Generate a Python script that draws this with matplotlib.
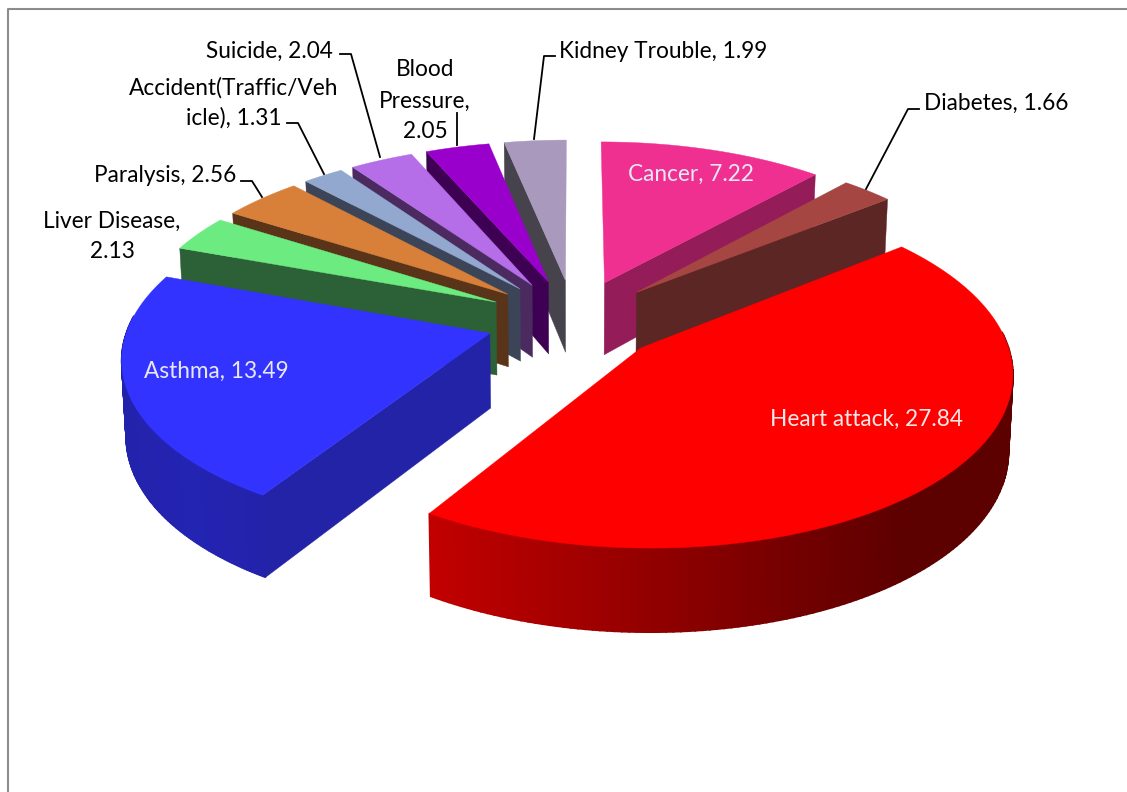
import numpy as np
import matplotlib
matplotlib.use('Agg')
import matplotlib.pyplot as plt
from matplotlib.patches import Polygon
from matplotlib.colors import to_rgb

names = ['Cancer', 'Diabetes', 'Heart attack', 'Asthma', 'Liver Disease', 'Paralysis',
         'Accident(Traffic/Vehicle)', 'Suicide', 'Blood Pressure', 'Kidney Trouble']
values = [7.22, 1.66, 27.84, 13.49, 2.13, 2.56, 1.31, 2.04, 2.05, 1.99]
top_colors = ['#F03090', '#A54642', '#FF0000', '#3333FF', '#6BEB80', '#D8803A',
              '#92A8CF', '#B56DE8', '#9900CC', '#A899BD']
wall_colors = ['#941C58', '#5C2624', '#8A0000', '#2323A8', '#2C6036', '#5A3418',
               '#3C4558', '#4B2A60', '#3D0052', '#46434D']

# pixel coordinates, pie geometry
cx, cy = 574, 320
R = 360
explode = 88
squash = 0.465
persp = 0.00035
depth = 74


def project(px, py, low=False):
    f = 1 / (1 - persp * py)
    h = 0
    if low:
        h = depth * (1 + 0.0004 * py)
        f = f * 0.99
    return cx + px * f, cy + py * squash * f + h


def rim(a, apex, low=False):
    return project(apex[0] + R * np.sin(a), apex[1] - R * np.cos(a), low)


fig = plt.figure(figsize=(11.27, 7.92), dpi=100)
ax = fig.add_axes([0, 0, 1, 1])
ax.set_xlim(0, 1127)
ax.set_ylim(792, 0)
ax.axis('off')

ax.plot([7.7, 7.7, 1127], [792, 9.3, 9.3], color='#8C8C8C', lw=1.5, zorder=1)

total = sum(values)
slices = []
start = 0
for i, v in enumerate(values):
    end = start + v / total * 2 * np.pi
    mid = (start + end) / 2
    apex = (explode * np.sin(mid), -explode * np.cos(mid))
    slices.append((apex[1], i, start, end, apex))
    start = end

z = 2
for _, i, a, b, apex in sorted(slices, key=lambda s: s[0]):
    angles = np.linspace(a, b, 160)
    top_pts = [project(apex[0], apex[1])] + [rim(t, apex) for t in angles]

    # curved outer wall, shaded piece by piece from left to right
    base = np.array(to_rgb(top_colors[i]))
    for t0, t1 in zip(angles[:-1], angles[1:]):
        if np.cos((t0 + t1) / 2) < 0.1:
            xm = rim(t0, apex)[0]
            if i == 2:
                s = 0.76 - 0.40 * np.clip((xm - 431) / 480, 0, 1)
            else:
                s = 0.70 - 0.03 * abs(xm - 190) / 70
            col = base * s
            q = [rim(t0, apex), rim(t1, apex), rim(t1, apex, True), rim(t0, apex, True)]
            ax.add_patch(Polygon(q, fc=col, ec=col, lw=1.2, zorder=z))
            z += 1

    # flat cut faces
    for t, vis in ((a, np.sin(a) < 0), (b, np.sin(b) > 0)):
        if vis:
            q = [project(apex[0], apex[1]), rim(t, apex), rim(t, apex, True),
                 project(apex[0], apex[1], True)]
            ax.add_patch(Polygon(q, fc=wall_colors[i], ec=wall_colors[i], lw=0.3, zorder=z))
            z += 1

    ax.add_patch(Polygon(top_pts, fc=top_colors[i], ec=top_colors[i], lw=0.3, zorder=z))
    z += 1

leaders = [
    ([340, 351, 380], [54, 54, 157]),
    ([287, 298, 324], [123, 123, 174]),
    ([241, 252, 262], [181, 181, 197]),
    ([457, 457], [113, 145]),
    ([555, 544, 534], [56, 56, 139]),
    ([919, 908, 866], [109, 109, 189]),
]
for lx, ly in leaders:
    ax.plot(lx, ly, color='black', lw=1.3, zorder=z)

font = 'Lato'
size = 16.3
labels = [
    ('Suicide, 2.04', 269, 51, 'black'),
    ('Accident(Traffic/Veh', 233.5, 88, 'black'),
    ('icle), 1.31', 233.5, 118, 'black'),
    ('Paralysis, 2.56', 165, 176, 'black'),
    ('Liver Disease,', 112, 221, 'black'),
    ('2.13', 112, 252, 'black'),
    ('Blood', 425, 70, 'black'),
    ('Pressure,', 425, 101, 'black'),
    ('2.05', 425, 132, 'black'),
    ('Kidney Trouble, 1.99', 663.5, 52, 'black'),
    ('Diabetes, 1.66', 996, 103, 'black'),
    ('Cancer, 7.22', 691, 174, '#E8E8F4'),
    ('Heart attack, 27.84', 866.5, 419, '#F4E8E8'),
    ('Asthma, 13.49', 216.5, 371, '#E8E8F4'),
]
for txt, tx, ty, c in labels:
    ax.text(tx, ty, txt, ha='center', va='center', color=c, family=font, fontsize=size, zorder=z + 1)

fig.savefig('out.png', dpi=100)
